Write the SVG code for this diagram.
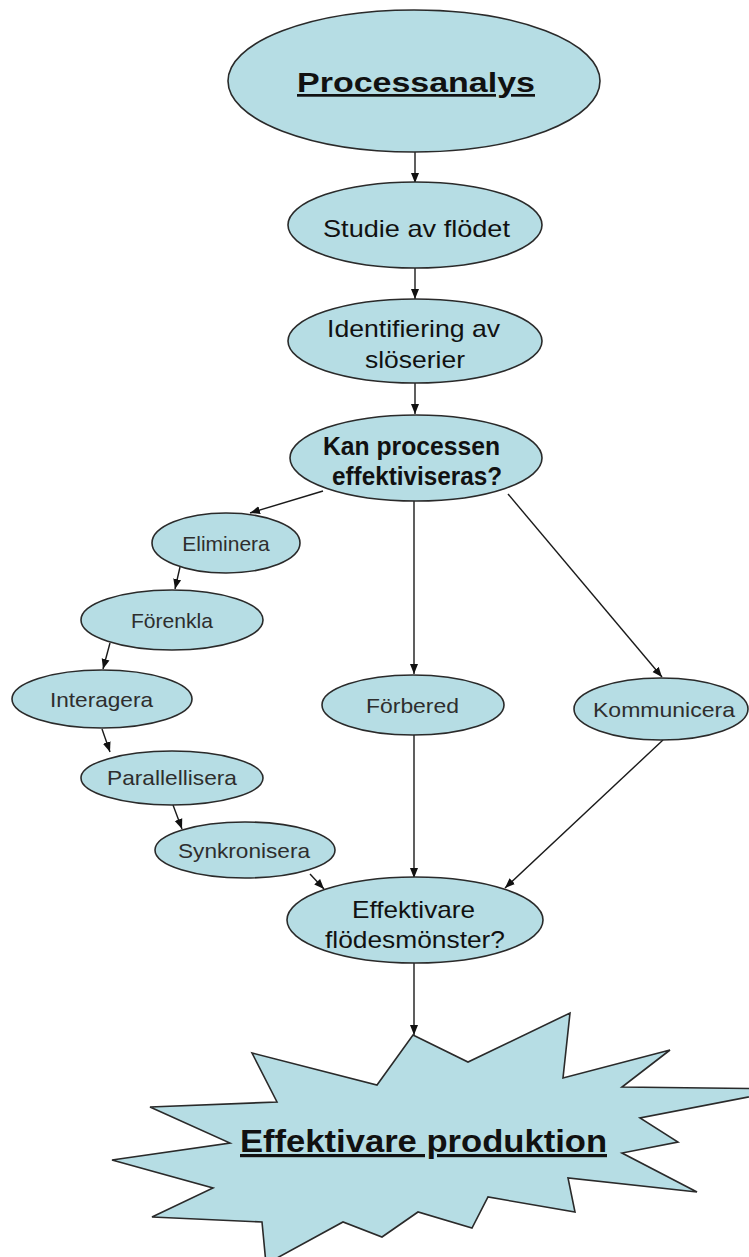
<svg xmlns="http://www.w3.org/2000/svg" width="749" height="1257" viewBox="0 0 749 1257">
  <style>
    .node { fill: #b6dde4; stroke: #2a2a2a; stroke-width: 1.6; }
    .edge { fill: none; stroke: #1a1a1a; stroke-width: 1.4; marker-end: url(#arrow); }
    .big { font-family: "Liberation Sans", Arial, sans-serif; fill: #111; }
    .small { font-family: "Liberation Sans", Arial, sans-serif; font-size: 21px; fill: #2e2e2e; }
    .title { font-weight: bold; text-decoration: underline; }
  </style>
  <defs>
    <marker id="arrow" markerUnits="userSpaceOnUse" markerWidth="10" markerHeight="10" viewBox="0 0 10 8" refX="10" refY="4" orient="auto">
      <path d="M0,0 L10,4 L0,8 Z" fill="#111"/>
    </marker>
  </defs>
  <rect width="749" height="1257" fill="#ffffff"/>

  <!-- connectors -->
  <g id="connectors">
    <line class="edge" x1="415" y1="152" x2="415" y2="183"/>
    <line class="edge" x1="415" y1="268" x2="415" y2="299"/>
    <line class="edge" x1="415" y1="383" x2="415" y2="414"/>
    <line class="edge" x1="323" y1="491" x2="250" y2="513"/>
    <line class="edge" x1="414" y1="501" x2="414" y2="674"/>
    <line class="edge" x1="508" y1="494" x2="662" y2="677"/>
    <line class="edge" x1="180" y1="567" x2="175" y2="589"/>
    <line class="edge" x1="110" y1="643" x2="103" y2="669"/>
    <line class="edge" x1="102" y1="729" x2="110" y2="752"/>
    <line class="edge" x1="173" y1="805" x2="182" y2="829"/>
    <line class="edge" x1="310" y1="874" x2="324" y2="889"/>
    <line class="edge" x1="414" y1="735" x2="414" y2="878"/>
    <line class="edge" x1="663" y1="740" x2="505" y2="888"/>
    <line class="edge" x1="414" y1="963" x2="414" y2="1035"/>
  </g>

  <g id="processanalys">
    <ellipse class="node" cx="414" cy="81" rx="186" ry="71"/>
    <text class="big title" x="297" y="92" font-size="27" textLength="238" lengthAdjust="spacingAndGlyphs">Processanalys</text>
  </g>

  <g id="studie">
    <ellipse class="node" cx="415" cy="225" rx="127" ry="43"/>
    <text class="big" x="323" y="237" font-size="24" textLength="187" lengthAdjust="spacingAndGlyphs">Studie av flödet</text>
  </g>

  <g id="identifiering">
    <ellipse class="node" cx="415" cy="341" rx="127" ry="42"/>
    <text class="big" x="327" y="337" font-size="24" textLength="173" lengthAdjust="spacingAndGlyphs">Identifiering av</text>
    <text class="big" x="365" y="368" font-size="24" textLength="100" lengthAdjust="spacingAndGlyphs">slöserier</text>
  </g>

  <g id="kan-processen">
    <ellipse class="node" cx="416" cy="458" rx="126" ry="43"/>
    <text class="big" x="323" y="455" font-size="25" font-weight="bold" textLength="177" lengthAdjust="spacingAndGlyphs">Kan processen</text>
    <text class="big" x="332" y="485" font-size="25" font-weight="bold" textLength="170" lengthAdjust="spacingAndGlyphs">effektiviseras?</text>
  </g>

  <g id="eliminera">
    <ellipse class="node" cx="226" cy="543" rx="74" ry="30"/>
    <text class="small" x="226" y="551" text-anchor="middle">Eliminera</text>
  </g>

  <g id="forenkla">
    <ellipse class="node" cx="172" cy="620" rx="91" ry="30"/>
    <text class="small" x="131" y="628" textLength="82" lengthAdjust="spacingAndGlyphs">Förenkla</text>
  </g>

  <g id="interagera">
    <ellipse class="node" cx="102" cy="699" rx="90" ry="29"/>
    <text class="small" x="50" y="707" textLength="103" lengthAdjust="spacingAndGlyphs">Interagera</text>
  </g>

  <g id="parallellisera">
    <ellipse class="node" cx="172" cy="778" rx="91" ry="27"/>
    <text class="small" x="107" y="785" textLength="130" lengthAdjust="spacingAndGlyphs">Parallellisera</text>
  </g>

  <g id="synkronisera">
    <ellipse class="node" cx="245" cy="850" rx="90" ry="28"/>
    <text class="small" x="178" y="858" textLength="132" lengthAdjust="spacingAndGlyphs">Synkronisera</text>
  </g>

  <g id="forbered">
    <ellipse class="node" cx="413" cy="705" rx="91" ry="30"/>
    <text class="small" x="366" y="713" textLength="93" lengthAdjust="spacingAndGlyphs">Förbered</text>
  </g>

  <g id="kommunicera">
    <ellipse class="node" cx="661" cy="709" rx="87" ry="31"/>
    <text class="small" x="593" y="717" textLength="142" lengthAdjust="spacingAndGlyphs">Kommunicera</text>
  </g>

  <g id="effektivare-flodesmonster">
    <ellipse class="node" cx="415" cy="920" rx="128" ry="43"/>
    <text class="big" x="352" y="918" font-size="24" textLength="123" lengthAdjust="spacingAndGlyphs">Effektivare</text>
    <text class="big" x="325" y="948" font-size="24" textLength="180" lengthAdjust="spacingAndGlyphs">flödesmönster?</text>
  </g>

  <g id="effektivare-produktion">
    <polygon class="node" points="413,1035 468,1062 570,1013 563,1078 670,1050 622,1087 790,1089 640,1118 678,1142 622,1153 697,1192 568,1178 575,1212 488,1197 472,1228 418,1212 382,1237 343,1222 266,1264 262,1222 152,1217 213,1188 112,1160 230,1143 150,1107 277,1102 252,1053 377,1085"/>
    <text class="big title" x="240" y="1152" font-size="32" textLength="367" lengthAdjust="spacingAndGlyphs">Effektivare produktion</text>
  </g>
</svg>
